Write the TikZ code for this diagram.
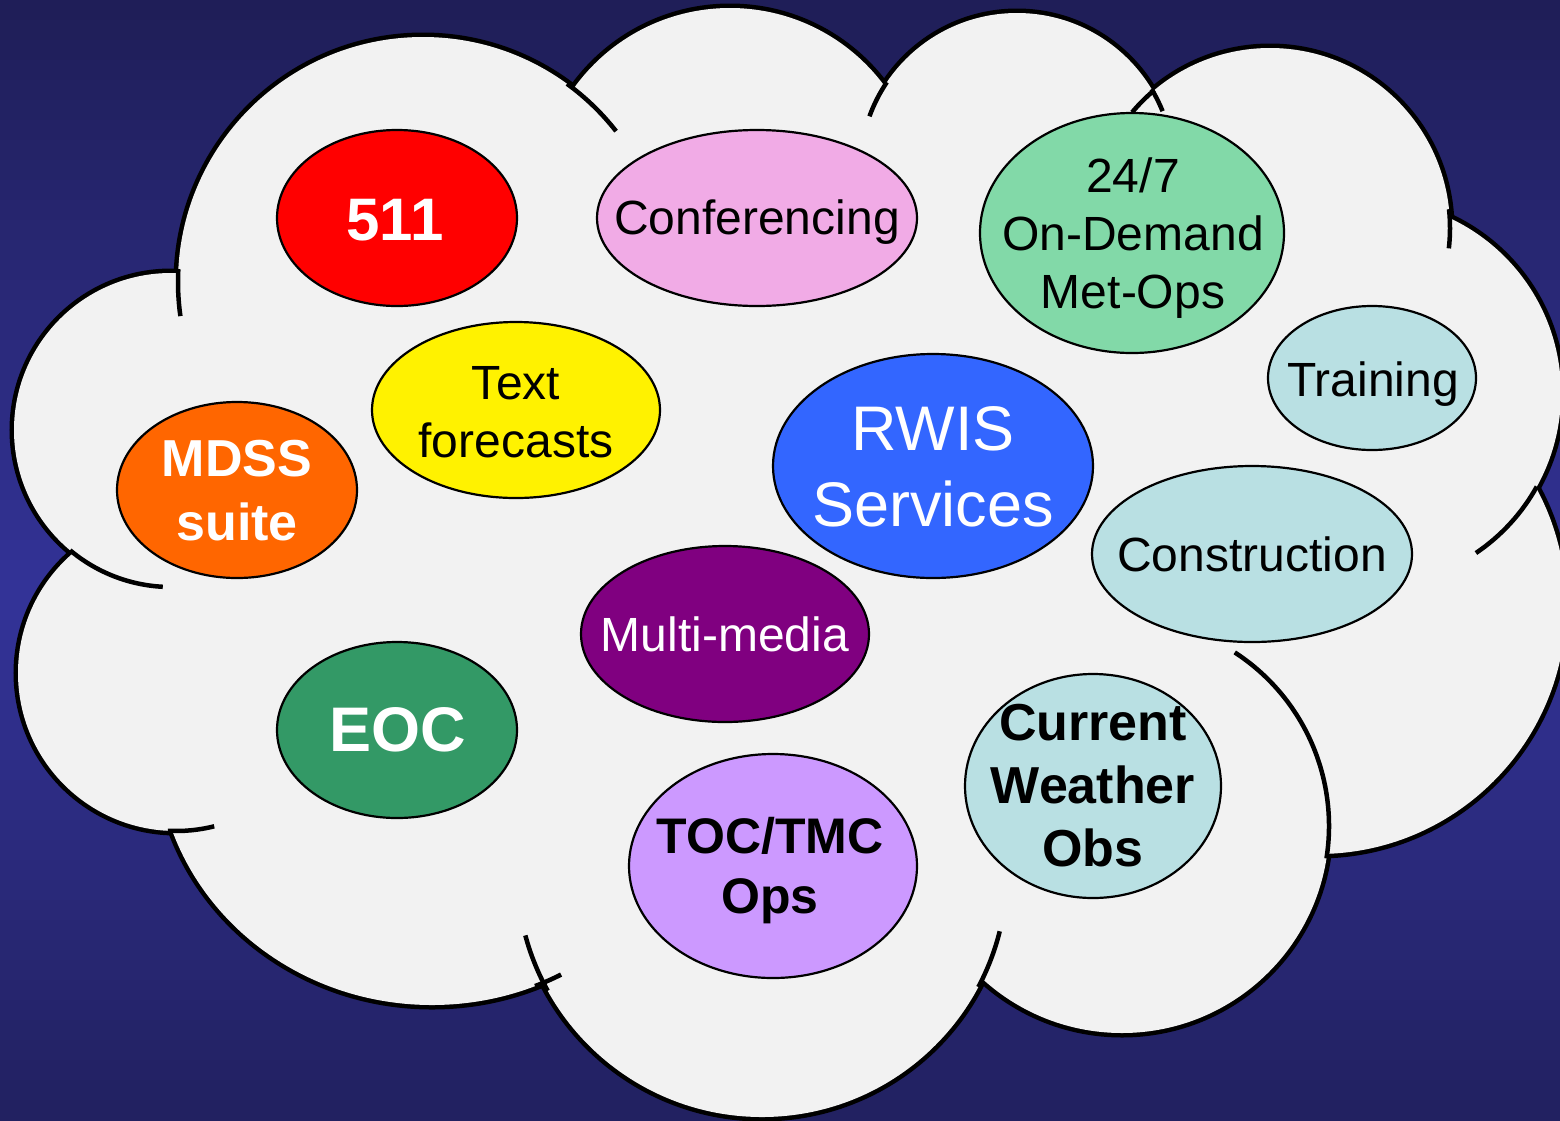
\documentclass[tikz,border=0pt]{standalone}
\usepackage{fontspec}
\setmainfont{Liberation Sans}
\usetikzlibrary{positioning}

\definecolor{bgtop}{RGB}{31,30,88}
\definecolor{bgmid}{RGB}{51,51,152}
\definecolor{cloudgray}{RGB}{242,242,242}
\definecolor{pinkbub}{RGB}{241,171,230}
\definecolor{mintbub}{RGB}{130,217,168}
\definecolor{tealbub}{RGB}{185,224,227}
\definecolor{orangebub}{RGB}{255,102,0}
\definecolor{bluebub}{RGB}{51,102,255}
\definecolor{purplebub}{RGB}{128,0,128}
\definecolor{greenbub}{RGB}{51,153,102}
\definecolor{lavbub}{RGB}{204,153,255}

\tikzset{
  lobe/.style={draw=black,line width=9},
  crease/.style={draw=black,line width=4.5},
  bubble/.style={draw=black,line width=2.2},
  every node/.style={align=center,inner sep=0pt},
  plaintxt/.style={text=black,font=\fontsize{48}{58}\selectfont},
  boldtxt/.style 2 args={font=\fontsize{#1}{#2}\selectfont\bfseries}
}

\begin{document}
\begin{tikzpicture}[x=1pt,y=-1pt]
\useasboundingbox (0,0) rectangle (1560,1120);
\clip (0,0) rectangle (1560,1120);
% background bands, lightest near the middle
\foreach \i in {0,...,55} {
  \pgfmathsetmacro\yy{\i*20}
  \pgfmathsetmacro\pp{max(0,100-abs(\yy+10-600)/5.9)}
  \fill[bgmid!\pp!bgtop] (0,\yy) rectangle (1560,\yy+21);
}

% cloud outline, then the fill over its inner half
\draw[lobe] (171,430) circle [radius=157];
\draw[lobe] (176,673) circle [radius=158];
\draw[lobe] (432,745) ellipse [x radius=275, y radius=260];
\draw[lobe] (762,872) circle [radius=245];
\draw[lobe] (1122,826) circle [radius=207];
\draw[lobe] (1318,606) circle [radius=248];
\draw[lobe] (1368,393) circle [radius=193];
\draw[lobe] (1270,228) circle [radius=180];
\draw[lobe] (1017,170) circle [radius=157];
\draw[lobe] (730,200) circle [radius=192];
\draw[lobe] (423,282) circle [radius=245];

\fill[cloudgray] (171,430) circle [radius=157];
\fill[cloudgray] (176,673) circle [radius=158];
\fill[cloudgray] (432,745) ellipse [x radius=275, y radius=260];
\fill[cloudgray] (762,872) circle [radius=245];
\fill[cloudgray] (1122,826) circle [radius=207];
\fill[cloudgray] (1318,606) circle [radius=248];
\fill[cloudgray] (1368,393) circle [radius=193];
\fill[cloudgray] (1270,228) circle [radius=180];
\fill[cloudgray] (1017,170) circle [radius=157];
\fill[cloudgray] (730,200) circle [radius=192];
\fill[cloudgray] (423,282) circle [radius=245];
\fill[cloudgray] (171,430) -- (423,282) -- (730,200) -- (1017,170) -- (1270,228)
  -- (1368,393) -- (1318,606) -- (1122,826) -- (762,872) -- (432,745) -- (176,673) -- cycle;

% inner arcs
\draw[crease] (423,282) ++(183:245) arc [start angle=183, end angle=172, radius=245];
\draw[crease] (423,282) ++(306:245) arc [start angle=306, end angle=322, radius=245];
\draw[crease] (171,430) ++(130:157) arc [start angle=130, end angle=93, radius=157];
\draw[crease] (176,673) ++(93:158) arc [start angle=93, end angle=76, radius=158];
\draw[crease] (432,745) ++(68:275 and 260) arc [start angle=68, end angle=62, x radius=275, y radius=260];
\draw[crease] (762,872) ++(151:245) arc [start angle=151, end angle=165, radius=245];
\draw[crease] (762,872) ++(28:245) arc [start angle=28, end angle=14, radius=245];
\draw[crease] (1122,826) ++(9:207) arc [start angle=9, end angle=-57, radius=207];
\draw[crease] (1368,393) ++(29:193) arc [start angle=29, end angle=56, radius=193];
\draw[crease] (1270,228) ++(-6:180) arc [start angle=-6, end angle=6.5, radius=180];
\draw[crease] (1270,228) ++(230:180) arc [start angle=230, end angle=220, radius=180];
\draw[crease] (1017,170) ++(-31:157) arc [start angle=-31, end angle=-22, radius=157];
\draw[crease] (1017,170) ++(214:157) arc [start angle=214, end angle=200, radius=157];

% bubbles
\draw[bubble,fill=red] (397,218) ellipse [x radius=120, y radius=88];
\draw[bubble,fill=pinkbub] (757,218) ellipse [x radius=160, y radius=88];
\draw[bubble,fill=mintbub] (1132,233) ellipse [x radius=152, y radius=120];
\draw[bubble,fill=tealbub] (1372,378) ellipse [x radius=104, y radius=72];
\draw[bubble,fill=yellow] (516,410) ellipse [x radius=144, y radius=88];
\draw[bubble,fill=orangebub] (237,490) ellipse [x radius=120, y radius=88];
\draw[bubble,fill=bluebub] (933,466) ellipse [x radius=160, y radius=112];
\draw[bubble,fill=tealbub] (1252,554) ellipse [x radius=160, y radius=88];
\draw[bubble,fill=purplebub] (725,634) ellipse [x radius=144, y radius=88];
\draw[bubble,fill=greenbub] (397,730) ellipse [x radius=120, y radius=88];
\draw[bubble,fill=lavbub] (773,866) ellipse [x radius=144, y radius=112];
\draw[bubble,fill=tealbub] (1093,786) ellipse [x radius=128, y radius=112];

\node[boldtxt={60}{72},text=white] (t511) at (395,220) {511};
\node[plaintxt] (tconf) at (757,222) {Conferencing};
\node[plaintxt] (tmetops) at (1133,238) {24/7\\On-Demand\\Met-Ops};
\node[plaintxt] (ttrain) at (1373,384) {Training};
\node[plaintxt] (ttext) at (516,412) {Text\\forecasts};
\node[boldtxt={52}{64},text=white] (tmdss) at (237,491) {MDSS\\suite};
\node[text=white,font=\fontsize{63}{76}\selectfont] (trwis) at (933,467) {RWIS\\Services};
\node[plaintxt] (tconstr) at (1252,554) {Construction};
\node[plaintxt,text=white] (tmedia) at (725,634) {Multi-media};
\node[boldtxt={63}{76},text=white] (teoc) at (398,730) {EOC};
\node[boldtxt={50}{60}] (ttoc) at (770,871) {TOC/TMC\\Ops};
\node[boldtxt={52}{63}] (tobs) at (1093,786) {Current\\Weather\\Obs};
\end{tikzpicture}
\end{document}
